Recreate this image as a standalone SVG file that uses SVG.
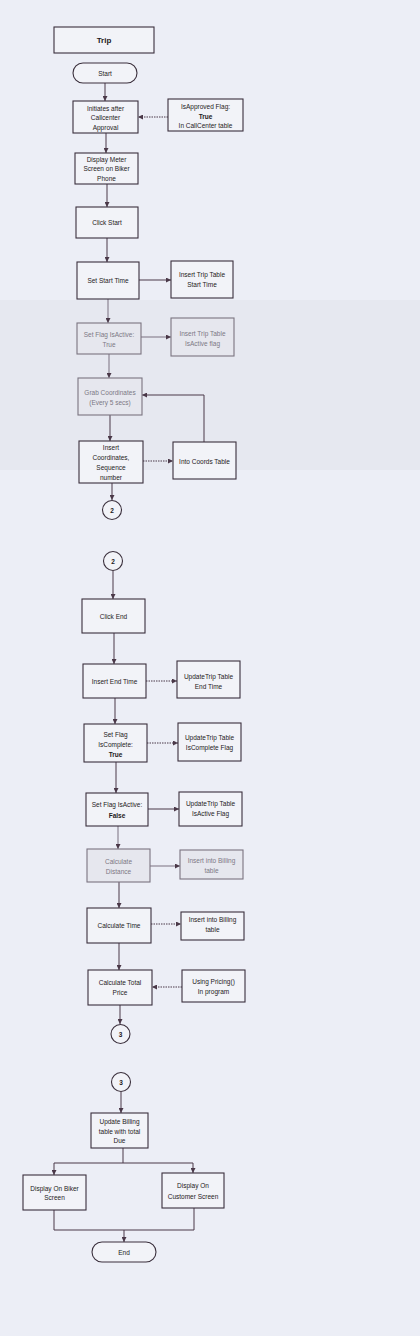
<svg xmlns="http://www.w3.org/2000/svg" width="420" height="1336" viewBox="0 0 420 1336">
<defs>
<style>
.bg{fill:#eceef6}
.box{fill:#f2f3f8;stroke:#3a2f3c;stroke-width:1.1}
.fade{fill:#e6e7ee;stroke:#7a7480;stroke-width:1.1}
.t{font-family:"Liberation Sans","DejaVu Sans",sans-serif;font-size:6.5px;fill:#1e1a22;text-anchor:middle}
.tf{font-family:"Liberation Sans","DejaVu Sans",sans-serif;font-size:6.5px;fill:#7c7884;text-anchor:middle}
.b{font-weight:bold}
.ln{fill:none;stroke:#4a3848;stroke-width:1}
.lf{fill:none;stroke:#7a7080;stroke-width:1}
.dot{fill:none;stroke:#4a3848;stroke-width:1;stroke-dasharray:1.5 1}
</style>
<marker id="ah" viewBox="0 0 6 6" refX="6" refY="3" markerWidth="5" markerHeight="5" orient="auto">
<path d="M0,0 L6,3 L0,6 z" fill="#4a3848"/>
</marker>
</defs>
<rect class="bg" x="0" y="0" width="420" height="1336"/>
<rect x="0" y="300" width="420" height="170" fill="#e2e4ec" opacity="0.6"/>

<g id="connectors">
<path class="ln" d="M105,83 V101" marker-end="url(#ah)"/>
<path class="ln" d="M106,133 V153" marker-end="url(#ah)"/>
<path class="ln" d="M107,184 V207" marker-end="url(#ah)"/>
<path class="ln" d="M107,238 V262" marker-end="url(#ah)"/>
<path class="lf" d="M108,299 V323" marker-end="url(#ah)"/>
<path class="lf" d="M109,354 V378" marker-end="url(#ah)"/>
<path class="ln" d="M110,415 V441" marker-end="url(#ah)"/>
<path class="ln" d="M112,483 V500" marker-end="url(#ah)"/>
<path class="ln" d="M113,571 V599" marker-end="url(#ah)"/>
<path class="ln" d="M114,633 V664" marker-end="url(#ah)"/>
<path class="ln" d="M115,698 V724" marker-end="url(#ah)"/>
<path class="ln" d="M116,762 V793" marker-end="url(#ah)"/>
<path class="lf" d="M118,826 V849" marker-end="url(#ah)"/>
<path class="ln" d="M119,882 V908" marker-end="url(#ah)"/>
<path class="ln" d="M119,943 V970" marker-end="url(#ah)"/>
<path class="ln" d="M120,1005 V1024" marker-end="url(#ah)"/>
<path class="ln" d="M121,1092 V1113" marker-end="url(#ah)"/>

<path class="dot" d="M168,117 H138" marker-end="url(#ah)"/>
<path class="ln" d="M139,280 H171" marker-end="url(#ah)"/>
<path class="lf" d="M141,337 H171" marker-end="url(#ah)"/>
<path class="dot" d="M143,461 H173" marker-end="url(#ah)"/>
<path class="ln" d="M204,442 V395 H142" marker-end="url(#ah)"/>
<path class="dot" d="M146,681 H177" marker-end="url(#ah)"/>
<path class="dot" d="M147,743 H178" marker-end="url(#ah)"/>
<path class="ln" d="M148,809 H179" marker-end="url(#ah)"/>
<path class="lf" d="M150,866 H180" marker-end="url(#ah)"/>
<path class="dot" d="M151,924 H181" marker-end="url(#ah)"/>
<path class="dot" d="M182,987 H152" marker-end="url(#ah)"/>

<path class="ln" d="M123,1148 V1163"/>
<path class="ln" d="M54,1163 H193"/>
<path class="ln" d="M54,1163 V1175" marker-end="url(#ah)"/>
<path class="ln" d="M193,1163 V1173" marker-end="url(#ah)"/>
<path class="ln" d="M54,1210 V1230 H194 V1208"/>
<path class="ln" d="M124,1230 V1242" marker-end="url(#ah)"/>
</g>

<g id="trip"><rect class="box" x="54" y="27" width="100" height="26"/><text class="t b" x="104" y="43" style="font-size:8px">Trip</text></g>
<g id="start"><rect class="box" x="73" y="63" width="64" height="20" rx="10"/><text class="t" x="105" y="75.5">Start</text></g>
<g id="initiates"><rect class="box" x="73" y="101" width="65" height="32"/><text class="t" x="105.5" y="110.5">Initiates after</text><text class="t" x="105.5" y="120">Callcenter</text><text class="t" x="105.5" y="130">Approval</text></g>
<g id="isapproved"><rect class="box" x="168" y="99" width="75" height="32"/><text class="t" x="205.5" y="109">IsApproved Flag:</text><text class="t b" x="205.5" y="118.5">True</text><text class="t" x="205.5" y="128">In CallCenter table</text></g>
<g id="display-meter"><rect class="box" x="75" y="153" width="63" height="31"/><text class="t" x="106.5" y="161.5">Display Meter</text><text class="t" x="106.5" y="171">Screen on Biker</text><text class="t" x="106.5" y="180.5">Phone</text></g>
<g id="click-start"><rect class="box" x="76" y="207" width="62" height="31"/><text class="t" x="107" y="225">Click Start</text></g>
<g id="set-start-time"><rect class="box" x="77" y="262" width="62" height="37"/><text class="t" x="108" y="283">Set Start Time</text></g>
<g id="insert-start-time"><rect class="box" x="171" y="261" width="62" height="37"/><text class="t" x="202" y="276.5">Insert Trip Table</text><text class="t" x="202" y="286.5">Start Time</text></g>
<g id="set-flag-active-true"><rect class="fade" x="77" y="323" width="64" height="31"/><text class="tf" x="109" y="336.5">Set Flag IsActive:</text><text class="tf" x="109" y="346.5">True</text></g>
<g id="insert-active-flag"><rect class="fade" x="171" y="318" width="63" height="38"/><text class="tf" x="202.5" y="335.5">Insert Trip Table</text><text class="tf" x="202.5" y="345.5">IsActive flag</text></g>
<g id="grab-coords"><rect class="fade" x="78" y="378" width="64" height="37"/><text class="tf" x="110" y="394.5">Grab Coordinates</text><text class="tf" x="110" y="405">(Every 5 secs)</text></g>
<g id="insert-coords"><rect class="box" x="79" y="441" width="64" height="42"/><text class="t" x="111" y="450">Insert</text><text class="t" x="111" y="460">Coordinates,</text><text class="t" x="111" y="470">Sequence</text><text class="t" x="111" y="480">number</text></g>
<g id="coords-table"><rect class="box" x="173" y="442" width="63" height="37"/><text class="t" x="204.5" y="463.5">Into Coords Table</text></g>
<g id="conn2a"><circle class="box" cx="112" cy="510" r="9.5"/><text class="t b" x="112" y="512.5">2</text></g>
<g id="conn2b"><circle class="box" cx="113" cy="561" r="9.5"/><text class="t b" x="113" y="563.5">2</text></g>
<g id="click-end"><rect class="box" x="82" y="599" width="63" height="34"/><text class="t" x="113.5" y="618.5">Click End</text></g>
<g id="insert-end-time"><rect class="box" x="83" y="664" width="63" height="34"/><text class="t" x="114.5" y="683.5">Insert End Time</text></g>
<g id="update-end-time"><rect class="box" x="177" y="661" width="63" height="37"/><text class="t" x="208.5" y="678.5">UpdateTrip Table</text><text class="t" x="208.5" y="688.5">End Time</text></g>
<g id="set-flag-complete"><rect class="box" x="84" y="724" width="63" height="38"/><text class="t" x="115.5" y="736.5">Set Flag</text><text class="t" x="115.5" y="746.5">IsComplete:</text><text class="t b" x="115.5" y="756.5">True</text></g>
<g id="update-complete"><rect class="box" x="178" y="723" width="63" height="38"/><text class="t" x="209.5" y="739.5">UpdateTrip Table</text><text class="t" x="209.5" y="749.5">IsComplete Flag</text></g>
<g id="set-flag-active-false"><rect class="box" x="86" y="793" width="62" height="33"/><text class="t" x="117" y="806.5">Set Flag IsActive:</text><text class="t b" x="117" y="817.5">False</text></g>
<g id="update-active"><rect class="box" x="179" y="792" width="63" height="34"/><text class="t" x="210.5" y="805.5">UpdateTrip Table</text><text class="t" x="210.5" y="815.5">IsActive Flag</text></g>
<g id="calc-distance"><rect class="fade" x="87" y="849" width="63" height="33"/><text class="tf" x="118.5" y="863.5">Calculate</text><text class="tf" x="118.5" y="873.5">Distance</text></g>
<g id="billing-distance"><rect class="fade" x="180" y="850" width="63" height="29"/><text class="tf" x="211.5" y="862.5">Insert into Billing</text><text class="tf" x="211.5" y="872.5">table</text></g>
<g id="calc-time"><rect class="box" x="87" y="908" width="64" height="35"/><text class="t" x="119" y="927.5">Calculate Time</text></g>
<g id="billing-time"><rect class="box" x="181" y="912" width="63" height="28"/><text class="t" x="212.5" y="921.5">Insert into Billing</text><text class="t" x="212.5" y="931.5">table</text></g>
<g id="calc-total"><rect class="box" x="88" y="970" width="64" height="35"/><text class="t" x="120" y="984.5">Calculate Total</text><text class="t" x="120" y="994.5">Price</text></g>
<g id="pricing"><rect class="box" x="182" y="970" width="63" height="32"/><text class="t" x="213.5" y="983.5">Using Pricing()</text><text class="t" x="213.5" y="993.5">In program</text></g>
<g id="conn3a"><circle class="box" cx="120.5" cy="1034" r="9.5"/><text class="t b" x="120.5" y="1036.5">3</text></g>
<g id="conn3b"><circle class="box" cx="121" cy="1082" r="9.5"/><text class="t b" x="121" y="1084.5">3</text></g>
<g id="update-billing"><rect class="box" x="91" y="1113" width="57" height="35"/><text class="t" x="119.5" y="1123.5">Update Billing</text><text class="t" x="119.5" y="1133.5">table with total</text><text class="t" x="119.5" y="1143">Due</text></g>
<g id="display-biker"><rect class="box" x="23" y="1175" width="63" height="35"/><text class="t" x="54.5" y="1190.5">Display On Biker</text><text class="t" x="54.5" y="1199.5">Screen</text></g>
<g id="display-customer"><rect class="box" x="162" y="1173" width="62" height="35"/><text class="t" x="193" y="1187.5">Display On</text><text class="t" x="193" y="1198.5">Customer Screen</text></g>
<g id="end"><rect class="box" x="92" y="1242" width="64" height="20" rx="10"/><text class="t" x="124" y="1254.5">End</text></g>
</svg>
